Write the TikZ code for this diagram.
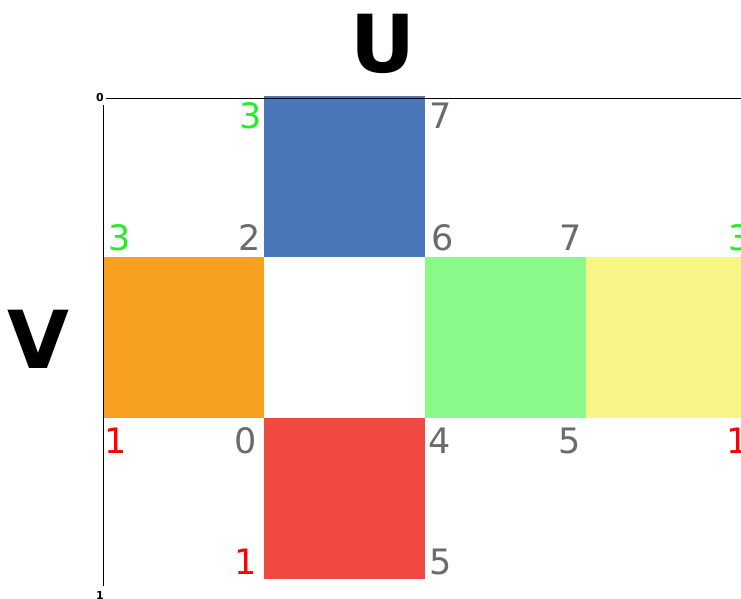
\documentclass[tikz,border=0pt]{standalone}
\usepackage{fontspec}
\setmainfont{DejaVu Sans}
\usepackage{xcolor}
\definecolor{faceblue}{HTML}{4A77B9}
\definecolor{faceorange}{HTML}{F8A120}
\definecolor{facegreen}{HTML}{89F98A}
\definecolor{faceyellow}{HTML}{F7F586}
\definecolor{facered}{HTML}{F24942}
\definecolor{idxgray}{HTML}{6B6B6B}
\definecolor{idxgreen}{HTML}{22EE22}
\definecolor{idxred}{HTML}{FF0000}
\usetikzlibrary{positioning}

\begin{document}
\begin{tikzpicture}[x=1pt,y=-1pt,node distance=0pt,
  face/.style={minimum size=161pt,inner sep=0pt,outer sep=0pt},
  idx/.style={font=\fontsize{35}{35}\selectfont,inner sep=0pt,text=idxgray},
  axlbl/.style={font=\fontsize{80}{80}\selectfont\bfseries,inner sep=0pt},
  axend/.style={font=\fontsize{11}{11}\selectfont\bfseries,inner sep=0pt}]
\useasboundingbox (0,0) rectangle (741,598);
% cross of faces
\node[face] (mid) at (344.5,337.5) {};
\node[face,fill=faceblue,above=of mid] (top) {};
\node[face,fill=faceorange,left=of mid] (left) {};
\node[face,fill=facegreen,right=of mid] (right) {};
\node[face,fill=faceyellow,right=of right] (back) {};
\node[face,fill=facered,below=of mid] (bottom) {};
% axes
\node[axend] (orig) at (100,97) {0};
\node[axend] (vend) at (100,595) {1};
\coordinate (uend) at (741,98);
\coordinate (vbot) at (103,586);
\draw[line width=1pt] (orig.east) ++(2,1) -- (uend);
\draw[line width=1pt] (103,105) -- (vbot);
\node[axlbl] (ulbl) at (383,44) {U};
\node[axlbl] (vlbl) at (38,339) {V};
% vertex numbers
\node[idx,text=idxgreen] at (251,116) {3};
\node[idx] at (441,116) {7};
\node[idx,text=idxgreen] at (120,238) {3};
\node[idx] at (250,238) {2};
\node[idx] at (443,238) {6};
\node[idx] at (571,238) {7};
\node[idx,text=idxgreen] at (740,238) {3};
\node[idx,text=idxred] at (116,441) {1};
\node[idx] at (246,441) {0};
\node[idx] at (440,441) {4};
\node[idx] at (570,441) {5};
\node[idx,text=idxred] at (738,441) {1};
\node[idx,text=idxred] at (246,562) {1};
\node[idx] at (441,562) {5};
\end{tikzpicture}
\end{document}
